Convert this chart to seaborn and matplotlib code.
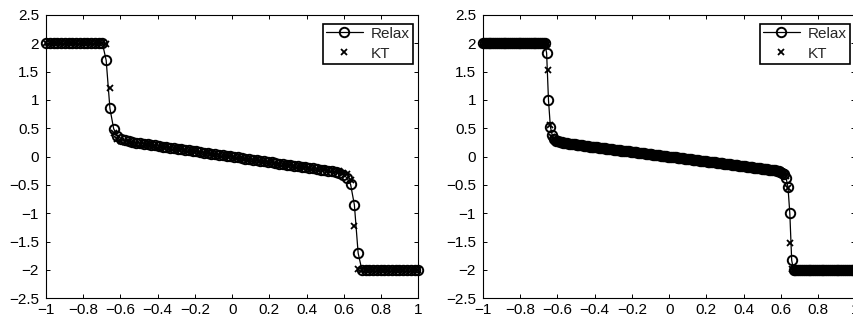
import matplotlib
matplotlib.use("Agg")
import matplotlib.pyplot as plt
import numpy as np
import seaborn as sns

# grids: 100 points (left panel) and 200 points (right panel) on [-1, 1]
x_left = np.linspace(-1, 1, 100)
x_right = np.linspace(-1, 1, 200)

relax_left = [
    2.0, 2.0, 2.0, 2.0, 2.0, 2.0, 2.0, 2.0, 2.0, 2.0, 2.0, 2.0, 2.0, 2.0, 2.0, 2.0,
    1.70, 0.85, 0.49, 0.37, 0.32, 0.29, 0.272, 0.258, 0.247, 0.237, 0.227, 0.217,
    0.208, 0.198, 0.189, 0.179, 0.170, 0.160, 0.151, 0.141, 0.131, 0.121, 0.112,
    0.102, 0.092, 0.083, 0.073, 0.063, 0.054, 0.044, 0.034, 0.024, 0.015, 0.005,
    -0.005, -0.015, -0.024, -0.034, -0.044, -0.054, -0.063, -0.073, -0.083, -0.092,
    -0.102, -0.112, -0.121, -0.131, -0.141, -0.151, -0.160, -0.170, -0.179, -0.189,
    -0.198, -0.208, -0.217, -0.227, -0.237, -0.247, -0.258, -0.272, -0.29, -0.32,
    -0.37, -0.49, -0.85, -1.70,
    -2.0, -2.0, -2.0, -2.0, -2.0, -2.0, -2.0, -2.0, -2.0, -2.0, -2.0, -2.0, -2.0, -2.0, -2.0, -2.0,
]
kt_left = [
    2.0, 2.0, 2.0, 2.0, 2.0, 2.0, 2.0, 2.0, 2.0, 2.0, 2.0, 2.0, 2.0, 2.0, 2.0, 2.0,
    1.98, 1.22, 0.42, 0.31, 0.28, 0.262, 0.25, 0.24, 0.232, 0.226, 0.219, 0.211,
    0.203, 0.195, 0.187, 0.179, 0.170, 0.160, 0.151, 0.141, 0.131, 0.121, 0.112,
    0.102, 0.092, 0.083, 0.073, 0.063, 0.054, 0.044, 0.034, 0.024, 0.015, 0.005,
    -0.005, -0.015, -0.024, -0.034, -0.044, -0.054, -0.063, -0.073, -0.083, -0.092,
    -0.102, -0.112, -0.121, -0.131, -0.141, -0.151, -0.160, -0.170, -0.179, -0.187,
    -0.195, -0.203, -0.211, -0.219, -0.226, -0.232, -0.24, -0.25, -0.262, -0.28,
    -0.31, -0.42, -1.22, -1.98,
    -2.0, -2.0, -2.0, -2.0, -2.0, -2.0, -2.0, -2.0, -2.0, -2.0, -2.0, -2.0, -2.0, -2.0, -2.0, -2.0,
]

relax_right = [
    2.0, 2.0, 2.0, 2.0, 2.0, 2.0, 2.0, 2.0, 2.0, 2.0, 2.0, 2.0, 2.0, 2.0, 2.0, 2.0, 2.0,
    2.0, 2.0, 2.0, 2.0, 2.0, 2.0, 2.0, 2.0, 2.0, 2.0, 2.0, 2.0, 2.0, 2.0, 2.0, 2.0, 2.0,
    1.83, 1.00, 0.53, 0.38, 0.31, 0.283, 0.268, 0.258,
    0.250, 0.244, 0.239, 0.234, 0.229, 0.224, 0.220, 0.215, 0.210, 0.206, 0.201, 0.197,
    0.192, 0.188, 0.184, 0.179, 0.175, 0.171, 0.167, 0.163, 0.158, 0.154,
    0.150, 0.146, 0.141, 0.137, 0.133, 0.129, 0.125, 0.120, 0.116, 0.112,
    0.108, 0.103, 0.099, 0.095, 0.091, 0.087, 0.082, 0.078, 0.074, 0.070,
    0.065, 0.061, 0.057, 0.053, 0.049, 0.044, 0.040, 0.036, 0.032, 0.027,
    0.023, 0.019, 0.015, 0.011, 0.006, 0.002,
    -0.002, -0.006, -0.011, -0.015, -0.019, -0.023,
    -0.027, -0.032, -0.036, -0.040, -0.044, -0.049, -0.053, -0.057, -0.061, -0.065,
    -0.070, -0.074, -0.078, -0.082, -0.087, -0.091, -0.095, -0.099, -0.103, -0.108,
    -0.112, -0.116, -0.120, -0.125, -0.129, -0.133, -0.137, -0.141, -0.146, -0.150,
    -0.154, -0.158, -0.163, -0.167, -0.171, -0.175, -0.179, -0.184, -0.188, -0.192,
    -0.197, -0.201, -0.206, -0.210, -0.215, -0.220, -0.224, -0.229, -0.234, -0.239, -0.244, -0.250,
    -0.258, -0.268, -0.283, -0.31, -0.38, -0.53, -1.00, -1.83,
    -2.0, -2.0, -2.0, -2.0, -2.0, -2.0, -2.0, -2.0, -2.0, -2.0, -2.0, -2.0, -2.0, -2.0, -2.0, -2.0, -2.0,
    -2.0, -2.0, -2.0, -2.0, -2.0, -2.0, -2.0, -2.0, -2.0, -2.0, -2.0, -2.0, -2.0, -2.0, -2.0, -2.0, -2.0,
]
kt_right = [
    2.0, 2.0, 2.0, 2.0, 2.0, 2.0, 2.0, 2.0, 2.0, 2.0, 2.0, 2.0, 2.0, 2.0, 2.0, 2.0, 2.0,
    2.0, 2.0, 2.0, 2.0, 2.0, 2.0, 2.0, 2.0, 2.0, 2.0, 2.0, 2.0, 2.0, 2.0, 2.0, 2.0, 2.0, 1.99,
    1.53, 0.55, 0.35, 0.29, 0.27, 0.258, 0.25,
    0.243, 0.237, 0.232, 0.227, 0.222, 0.218, 0.214, 0.211,
    0.210, 0.206, 0.201, 0.197,
    0.192, 0.188, 0.184, 0.179, 0.175, 0.171, 0.167, 0.163, 0.158, 0.154,
    0.150, 0.146, 0.141, 0.137, 0.133, 0.129, 0.125, 0.120, 0.116, 0.112,
    0.108, 0.103, 0.099, 0.095, 0.091, 0.087, 0.082, 0.078, 0.074, 0.070,
    0.065, 0.061, 0.057, 0.053, 0.049, 0.044, 0.040, 0.036, 0.032, 0.027,
    0.023, 0.019, 0.015, 0.011, 0.006, 0.002,
    -0.002, -0.006, -0.011, -0.015, -0.019, -0.023,
    -0.027, -0.032, -0.036, -0.040, -0.044, -0.049, -0.053, -0.057, -0.061, -0.065,
    -0.070, -0.074, -0.078, -0.082, -0.087, -0.091, -0.095, -0.099, -0.103, -0.108,
    -0.112, -0.116, -0.120, -0.125, -0.129, -0.133, -0.137, -0.141, -0.146, -0.150,
    -0.154, -0.158, -0.163, -0.167, -0.171, -0.175, -0.179, -0.184, -0.188, -0.192,
    -0.197, -0.201, -0.206, -0.210,
    -0.211, -0.214, -0.218, -0.222, -0.227, -0.232, -0.237, -0.243,
    -0.25, -0.258, -0.27, -0.29, -0.35, -0.55, -1.53,
    -1.99, -2.0, -2.0, -2.0, -2.0, -2.0, -2.0, -2.0, -2.0, -2.0, -2.0, -2.0, -2.0, -2.0, -2.0, -2.0, -2.0,
    -2.0, -2.0, -2.0, -2.0, -2.0, -2.0, -2.0, -2.0, -2.0, -2.0, -2.0, -2.0, -2.0, -2.0, -2.0, -2.0, -2.0, -2.0,
]

xticks = [-1, -0.8, -0.6, -0.4, -0.2, 0, 0.2, 0.4, 0.6, 0.8, 1]
xtick_labels = ["\u22121", "\u22120.8", "\u22120.6", "\u22120.4", "\u22120.2", "0",
                "0.2", "0.4", "0.6", "0.8", "1"]
yticks = [-2.5, -2, -1.5, -1, -0.5, 0, 0.5, 1, 1.5, 2, 2.5]
ytick_labels = ["\u22122.5", "\u22122", "\u22121.5", "\u22121", "\u22120.5", "0",
                "0.5", "1", "1.5", "2", "2.5"]

sns.set_theme(style="ticks")
font_size = 11
plt.rcParams.update({
    "font.family": ["Liberation Sans", "DejaVu Sans"],
    "axes.edgecolor": "black",
    "axes.linewidth": 0.8,
    "xtick.direction": "in",
    "ytick.direction": "in",
    "xtick.top": True,
    "ytick.right": True,
    "xtick.major.size": 3.2,
    "ytick.major.size": 3.2,
    "xtick.major.width": 0.7,
    "ytick.major.width": 0.7,
    "xtick.color": "black",
    "ytick.color": "black",
    "xtick.labelsize": font_size,
    "ytick.labelsize": font_size,
    "xtick.major.pad": 3.5,
    "ytick.major.pad": 5.0,
})

W, H = 854, 323
fig = plt.figure(figsize=(W / 100, H / 100), dpi=100)
ax1 = fig.add_axes([46 / W, 1 - 298.3 / H, 372.3 / W, 283.3 / H])
ax2 = fig.add_axes([483 / W, 1 - 298.3 / H, 372.3 / W, 283.3 / H])


def draw(ax, x, relax, kt):
    sns.lineplot(x=x, y=relax, ax=ax, color="black", linewidth=0.9, marker="o",
                 markersize=6.8, markerfacecolor="none", markeredgecolor="black",
                 markeredgewidth=1.4, label="Relax", sort=False, estimator=None,
                 clip_on=False)
    sns.lineplot(x=x, y=kt, ax=ax, color="black", linestyle="", marker="x",
                 markersize=3.8, markeredgecolor="black", markeredgewidth=1.3,
                 label="KT", sort=False, estimator=None, clip_on=False)
    ax.set_xlim(-1, 1)
    ax.set_ylim(-2.5, 2.5)
    ax.set_xticks(xticks)
    ax.set_xticklabels(xtick_labels)
    ax.set_yticks(yticks)
    ax.set_yticklabels(ytick_labels)
    ax.set_xlabel("")
    ax.set_ylabel("")
    for s in ax.spines.values():
        s.set_visible(True)
    leg = ax.legend(loc="upper right", bbox_to_anchor=(1 - 5.3 / 372.3, 1 - 8.5 / 283.3),
                    borderaxespad=0, borderpad=0.2, handlelength=2.4,
                    handletextpad=0.55, labelspacing=0.4, fontsize=font_size,
                    fancybox=False, framealpha=1, edgecolor="black")
    leg.get_frame().set_linewidth(1.2)


draw(ax1, x_left, relax_left, kt_left)
draw(ax2, x_right, relax_right, kt_right)

fig.savefig("out.png", dpi=100)
